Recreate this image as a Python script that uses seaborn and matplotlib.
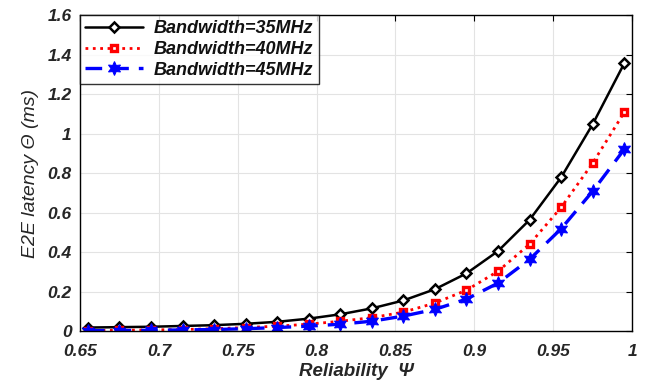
import pandas as pd
import matplotlib
matplotlib.use("Agg")
import matplotlib.pyplot as plt
import seaborn as sns

# Values
reliability = [0.655, 0.675, 0.695, 0.715, 0.735, 0.755, 0.775, 0.795, 0.815,
               0.835, 0.855, 0.875, 0.895, 0.915, 0.935, 0.955, 0.975, 0.995]
lat_35 = [0.018, 0.020, 0.022, 0.026, 0.030, 0.037, 0.047, 0.063, 0.085,
          0.115, 0.155, 0.212, 0.292, 0.405, 0.563, 0.778, 1.047, 1.355]
lat_40 = [0.003, 0.004, 0.006, 0.008, 0.012, 0.018, 0.025, 0.035, 0.050,
          0.068, 0.096, 0.142, 0.207, 0.303, 0.440, 0.626, 0.850, 1.107]
lat_45 = [0.002, 0.003, 0.004, 0.006, 0.008, 0.012, 0.018, 0.025, 0.035,
          0.050, 0.076, 0.110, 0.162, 0.243, 0.363, 0.518, 0.708, 0.920]
labels = ["Bandwidth=35MHz", "Bandwidth=40MHz", "Bandwidth=45MHz"]

sns.set_style("whitegrid")
plt.rcParams['font.family'] = ['Liberation Sans', 'DejaVu Sans']

fig = plt.figure(figsize=(6.45, 3.85), dpi=100)
ax = fig.add_axes([0.124, 0.140, 0.856, 0.821])

styles = [
    dict(color="black", linestyle="-", linewidth=1.8, marker="D", markersize=5.5,
         markerfacecolor="white", markeredgecolor="black", markeredgewidth=1.8),
    dict(color="red", linestyle=":", linewidth=2.0, marker="s", markersize=5,
         markerfacecolor="white", markeredgecolor="red", markeredgewidth=2.4),
    dict(color="blue", linestyle=(0, (5, 3)), linewidth=2.4, marker=(6, 1, 0),
         markersize=10, markerfacecolor="blue", markeredgecolor="blue"),
]

for vals, lab, st in zip([lat_35, lat_40, lat_45], labels, styles):
    df = pd.DataFrame({"Reliability": reliability, "Latency": vals})
    sns.lineplot(data=df, x="Reliability", y="Latency", ax=ax, label=lab, **st)

ax.set_xlim(0.65, 1.0)
ax.set_ylim(0, 1.6)
ax.set_xticks([0.65, 0.7, 0.75, 0.8, 0.85, 0.9, 0.95, 1.0])
ax.set_xticklabels(["0.65", "0.7", "0.75", "0.8", "0.85", "0.9", "0.95", "1"])
ax.set_yticks([0, 0.2, 0.4, 0.6, 0.8, 1.0, 1.2, 1.4, 1.6])
ax.set_yticklabels(["0", "0.2", "0.4", "0.6", "0.8", "1", "1.2", "1.4", "1.6"])
for t in ax.get_xticklabels() + ax.get_yticklabels():
    t.set_fontweight("bold")
    t.set_fontstyle("italic")
    t.set_fontsize(12.5)
    t.set_color("#262626")

ax.set_xlabel("Reliability  Ψ", fontsize=13.5, fontweight="bold", fontstyle="italic",
              labelpad=3, color="#262626")
ax.set_ylabel("E2E latency Θ (ms)", fontsize=14, fontstyle="italic",
              labelpad=6, color="#262626")

ax.grid(True, color="#e3e3e3", linewidth=0.8)
for s in ax.spines.values():
    s.set_color("black")
    s.set_linewidth(1.0)
ax.tick_params(direction="in", length=4, top=True, right=True, color="black")
ax.tick_params(axis="x", pad=9)
ax.tick_params(axis="y", pad=6)

leg = ax.legend(loc="upper left", borderaxespad=0, frameon=True, fancybox=False,
                edgecolor="black", handlelength=3.2, borderpad=0.3, labelspacing=0.2,
                handletextpad=0.6, prop=dict(weight="bold", style="italic", size=13))
leg.get_frame().set_linewidth(1.0)
for t in leg.get_texts():
    t.set_color("#111111")

fig.savefig("out.png", dpi=100)
